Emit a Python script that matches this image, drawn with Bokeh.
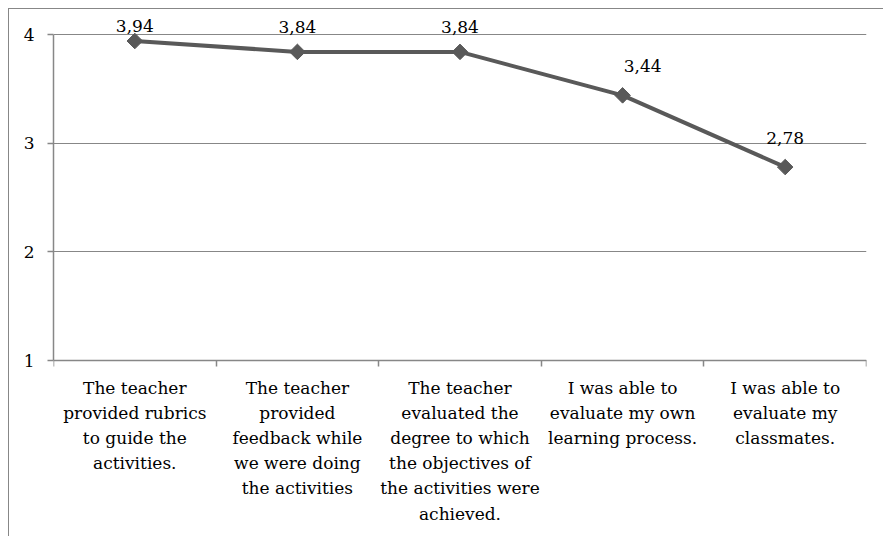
import math
from bokeh.plotting import figure
from bokeh.models import ColumnDataSource, Range1d, FixedTicker
from bokeh.core.properties import value
from bokeh.embed import file_html
from bokeh.resources import INLINE

# ---- data ----
categories = [
    "The teacher\nprovided rubrics\nto guide the\nactivities.",
    "The teacher\nprovided\nfeedback while\nwe were doing\nthe activities",
    "The teacher\nevaluated the\ndegree to which\nthe objectives of\nthe activities were\nachieved.",
    "I was able to\nevaluate my own\nlearning process.",
    "I was able to\nevaluate my\nclassmates.",
]
scores = [3.94, 3.84, 3.84, 3.44, 2.78]
y_ticks = [1, 2, 3, 4]
x_boundaries = [0, 1, 2, 3, 4, 5]

# ---- style ----
FONT = "DejaVu Serif"
GRID = "#878787"
LINE = "#595959"
FS = "17px"
label_dy = [-15, -25, -25, -29, -29]
label_dx = [0, 0, 0, 20, 0]

score_labels = [f"{v:.2f}".replace(".", ",") for v in scores]
xs = [i + 0.5 for i in range(len(categories))]

src = ColumnDataSource(dict(x=xs, y=scores, lab=score_labels, cat=categories,
                            dy=label_dy, dx=label_dx))

p = figure(width=875, height=528, output_backend="svg", toolbar_location=None, title=None,
           x_range=Range1d(0, 5), y_range=Range1d(-0.6196, 4.2393),
           min_border_left=45, min_border_right=17, min_border_top=0, min_border_bottom=0,
           background_fill_color=None, border_fill_color=None, outline_line_color=None)
p.margin = (8, 0, 0, 8)
p.styles = {"box-shadow": "inset 1px 1px 0 0 #878787"}

# y axis
p.yaxis.ticker = FixedTicker(ticks=y_ticks)
p.yaxis.bounds = (1, 4)
p.yaxis.major_tick_in = 0
p.yaxis.major_tick_out = 6
p.yaxis.minor_tick_line_color = None
p.yaxis.axis_line_color = GRID
p.yaxis.axis_line_width = 1.5
p.yaxis.major_tick_line_color = GRID
p.yaxis.major_tick_line_width = 1.5
p.yaxis.major_label_text_font = FONT
p.yaxis.major_label_text_font_size = FS
p.yaxis.major_label_text_color = "black"
p.yaxis.major_label_standoff = 13

# x axis (at y = 1, with ticks at category boundaries)
p.xaxis.fixed_location = 1
p.xaxis.ticker = FixedTicker(ticks=x_boundaries)
p.xaxis.major_label_overrides = {b: "" for b in x_boundaries}
p.xaxis.major_tick_in = 0
p.xaxis.major_tick_out = 6
p.xaxis.minor_tick_line_color = None
p.xaxis.axis_line_color = GRID
p.xaxis.axis_line_width = 1.5
p.xaxis.major_tick_line_color = GRID
p.xaxis.major_tick_line_width = 1.5

p.xgrid.visible = False
p.ygrid.ticker = FixedTicker(ticks=y_ticks)
p.ygrid.grid_line_color = GRID
p.ygrid.grid_line_width = 1.2

p.line("x", "y", source=src, line_color=LINE, line_width=4)
p.scatter("x", "y", source=src, marker="square", angle=math.pi / 4, size=11,
          fill_color=LINE, line_color=LINE)

p.text("x", "y", text="lab", source=src, x_offset="dx", y_offset="dy", text_align="center",
       text_baseline="alphabetic", text_font=value(FONT), text_font_size=FS, text_color="black")

p.text("x", 1, text="cat", source=src, y_offset=17, text_align="center",
       text_baseline="top", text_font=value(FONT), text_font_size=FS, text_color="black",
       text_line_height=1.26)

open("out.html", "w").write(file_html(p, INLINE))
